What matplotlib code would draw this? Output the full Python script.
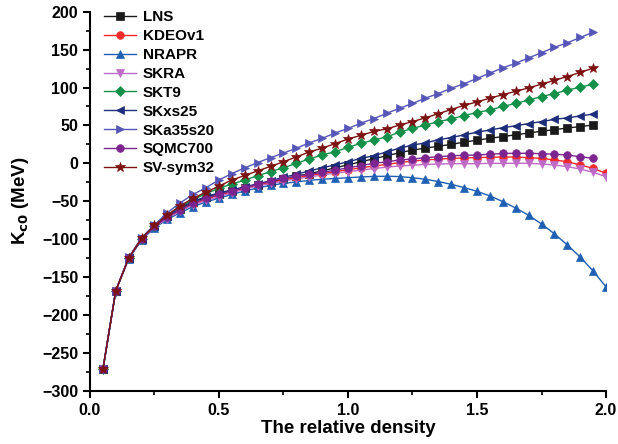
import matplotlib
matplotlib.use("Agg")
from matplotlib import pyplot as plt
from matplotlib.ticker import MultipleLocator, FormatStrFormatter

plt.rcParams['font.family'] = ['Liberation Sans', 'DejaVu Sans']
plt.rcParams['font.weight'] = 'bold'

# relative density grid (0.05 ... 1.95), three models go on to 2.0
rho = [0.05, 0.10, 0.15, 0.20, 0.25, 0.30, 0.35, 0.40, 0.45, 0.50,
       0.55, 0.60, 0.65, 0.70, 0.75, 0.80, 0.85, 0.90, 0.95, 1.00,
       1.05, 1.10, 1.15, 1.20, 1.25, 1.30, 1.35, 1.40, 1.45, 1.50,
       1.55, 1.60, 1.65, 1.70, 1.75, 1.80, 1.85, 1.90, 1.95]
rho_ext = rho + [2.00]

lns = [-272, -168, -125, -100, -83, -70, -60, -51, -45, -40,
       -36, -32, -28, -24.5, -21, -17, -13.5, -10, -6, -2,
       2, 6, 10, 14, 17.5, 20, 22.5, 25, 28, 30.5,
       33, 35.3, 37.6, 40, 42.3, 44.5, 46.5, 48.5, 50.5]
kdeov1 = [-272, -168, -125, -100, -83, -72, -62, -54, -47.5, -42,
          -37.5, -33, -29, -25.5, -22, -19, -16, -13.5, -11, -8.5,
          -6, -3.5, -1.5, 1, 3, 4.4, 5.5, 6.5, 7, 7.5,
          8, 8.3, 8.3, 7.4, 6.6, 4.4, 2.1, -2.2, -6.6, -13.2]
nrapr = [-272, -168, -126, -101, -85, -74, -65, -57, -51, -46,
         -41, -36.5, -32.5, -29, -26.5, -24.5, -22.5, -21, -20, -19,
         -18, -17.3, -17, -17.5, -19, -21, -24, -27.7, -32, -37,
         -43, -50.5, -59, -68.5, -80, -93, -107.6, -123.7, -142, -163]
skra = [-272, -168, -126, -101, -84, -73, -63, -55, -49, -44,
        -39, -34, -30, -26.5, -23.5, -20.5, -18, -15.5, -13, -11,
        -9, -7, -5, -3.5, -2.5, -1.5, -1, -0.5, -0.5, -0.5,
        0, 0, 0, 0, -0.9, -2.2, -4.4, -7.5, -12, -17.5]
skt9 = [-272, -168, -125, -100, -83, -69, -57, -48, -40, -33,
        -27.3, -22, -16.4, -11, -5.8, 0, 5.7, 11, 15.3, 21,
        26.4, 30.7, 35, 41, 46, 50.5, 55, 58.5, 63, 67,
        70.5, 75, 79, 83.5, 88, 92, 96.5, 100.5, 104.5]
skxs25 = [-272, -168, -125, -100, -83, -70, -59, -50, -44, -39,
          -35, -31, -27, -23, -18.5, -14.5, -10, -6, -2, 2,
          6.5, 10, 15, 20, 24, 27, 31, 34, 37.5, 41,
          44, 47, 49.5, 52.5, 55, 58, 60, 62.5, 65]
ska35s20 = [-272, -168, -124, -98, -81, -65, -52, -41, -32, -22,
            -13.5, -6, 1, 7.5, 13.5, 20, 27, 33, 40, 46,
            53, 59, 66, 72.6, 79, 86, 92, 99, 105, 112,
            119, 126, 132, 139, 146, 153, 159, 166, 173]
sqmc700 = [-272, -168, -125, -100, -83, -71, -61, -53, -46, -41,
           -36.5, -32, -27.7, -23.4, -20, -17, -14.5, -12, -9, -6,
           -3, 0, 2, 4.4, 5.7, 7.4, 8.7, 10, 10.5, 11,
           12, 13, 13.2, 13.2, 12.7, 12, 11, 8.7, 6.6]
svsym32 = [-272, -168, -125, -99, -82, -68, -56, -46, -38, -30,
           -22, -16, -10, -4, 2, 8.5, 15, 20, 26, 32,
           37, 42, 45.5, 50.5, 55, 60, 65.5, 71, 76.5, 81,
           86, 90.5, 95, 99.5, 104.5, 109.5, 114.5, 120, 125.5]

series = [
    ('LNS', rho, lns, '#1a1a1a', 's'),
    ('KDEOv1', rho_ext, kdeov1, '#f02a2a', 'o'),
    ('NRAPR', rho_ext, nrapr, '#1f5fb4', '^'),
    ('SKRA', rho_ext, skra, '#c06ac8', 'v'),
    ('SKT9', rho, skt9, '#159048', 'D'),
    ('SKxs25', rho, skxs25, '#1c2d7a', '<'),
    ('SKa35s20', rho, ska35s20, '#5656b8', '>'),
    ('SQMC700', rho, sqmc700, '#7c2590', 'o'),
    ('SV-sym32', rho, svsym32, '#7d1212', '*'),
]

fig = plt.figure(figsize=(6.18, 4.44), dpi=100)
ax = fig.add_axes([0.1456, 0.12, 0.835, 0.8536])

for name, xs, ys, color, marker in series:
    ms = 7.5 if marker == '*' else (5 if marker == 'D' else 5.5)
    ax.plot(xs, ys, color=color, marker=marker, markersize=ms, linewidth=1.0,
            label=name, markeredgewidth=0.5)

ax.set_xlim(0, 2.0)
ax.set_ylim(-300, 200)
ax.xaxis.set_major_locator(MultipleLocator(0.5))
ax.xaxis.set_minor_locator(MultipleLocator(0.25))
ax.yaxis.set_major_locator(MultipleLocator(50))
ax.yaxis.set_minor_locator(MultipleLocator(25))
ax.xaxis.set_major_formatter(FormatStrFormatter('%.1f'))
ax.spines['top'].set_visible(False)
ax.spines['right'].set_visible(False)
ax.spines['left'].set_linewidth(1.5)
ax.spines['bottom'].set_linewidth(1.5)
ax.tick_params(which='major', direction='out', length=5, width=1.5, labelsize=11.5)
ax.tick_params(which='minor', direction='out', length=3, width=1.2)
for lab in ax.get_xticklabels() + ax.get_yticklabels():
    lab.set_fontweight('bold')

ax.set_xlabel('The relative density', fontsize=13.5, fontweight='bold', labelpad=2)
ax.set_ylabel(r'K$_{\mathbf{c0}}$ (MeV)', fontsize=13.5, fontweight='bold', labelpad=8)

ax.legend(loc='upper left', frameon=False, fontsize=11, handlelength=2.1,
          labelspacing=0.32, borderaxespad=0.0, handletextpad=0.45,
          bbox_to_anchor=(0.015, 1.02))

fig.savefig('out.png', dpi=100)
